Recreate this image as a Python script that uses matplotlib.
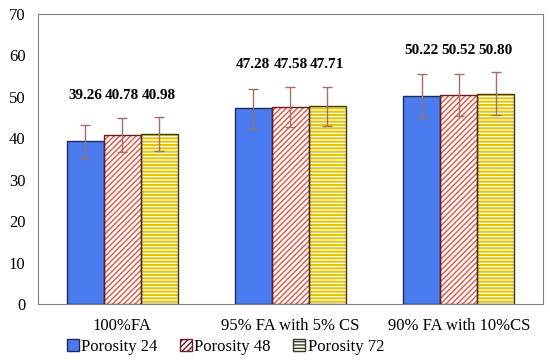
import matplotlib.pyplot as plt
import numpy as np

plt.rcParams['font.family'] = ['Liberation Serif', 'DejaVu Serif']

mixes = ['100%FA', '95% FA with 5% CS', '90% FA with 10%CS']
series = ['Porosity 24', 'Porosity 48', 'Porosity 72']
p24 = [39.26, 47.28, 50.22]
p48 = [40.78, 47.58, 50.52]
p72 = [40.98, 47.71, 50.80]
err24 = [4.0, 4.7, 5.2]
err48 = [4.1, 4.8, 5.1]
err72 = [4.1, 4.8, 5.1]

values = [p24, p48, p72]
errors = [err24, err48, err72]
faces = ['#4a7cf0', 'white', 'white']
hatches = [None, '//////', '-----']
hcolors = ['#4a7cf0', '#e0604f', '#e6c400']
hwidths = [1.0, 1.1, 1.5]
edges = ['#1f2a55', '#6b1a20', '#3a3a20']

fig = plt.figure(figsize=(5.5, 3.61), dpi=100)
ax = fig.add_axes([0.069, 0.158, 0.918, 0.803])

x = np.arange(len(mixes))
w = 0.22
handles = []
for i in range(3):
    pos = x + (i - 1) * w
    with plt.rc_context({'hatch.linewidth': hwidths[i]}):
        # hatch layer first, then outline on top
        ax.bar(pos, values[i], w, color=faces[i], edgecolor=hcolors[i],
               hatch=hatches[i], linewidth=0, zorder=2)
        handles.append(plt.Rectangle((0, 0), 1, 1, facecolor=faces[i], edgecolor=edges[i],
                                     hatch=hatches[i], linewidth=1))
    ax.bar(pos, values[i], w, fill=False, edgecolor=edges[i], linewidth=1, zorder=3)
    ax.errorbar(pos, values[i], yerr=errors[i], fmt='none', ecolor='#a07068',
                elinewidth=1, capsize=3.5, capthick=1, zorder=4)

for j in range(len(mixes)):
    top = max(values[i][j] + errors[i][j] for i in range(3))
    for i in range(3):
        ax.text(x[j] + (i - 1) * w, top + 5.3, '%.2f' % values[i][j], ha='center', va='center',
                fontsize=11, fontweight='bold')

ax.set_xlim(-0.5, 2.5)
ax.set_ylim(0, 70)
ax.set_yticks(range(0, 71, 10))
ax.set_xticks(x)
ax.set_xticklabels(mixes)
ax.tick_params(length=0, labelsize=12)
ax.tick_params(axis='y', pad=9)
ax.tick_params(axis='x', pad=10)
for s in ax.spines.values():
    s.set_color('#808080')

fig.legend(handles, series, loc='lower center', bbox_to_anchor=(0.41, -0.025), ncol=3,
           frameon=False, fontsize=12, handlelength=0.7, handleheight=0.7,
           handletextpad=0.15, columnspacing=1.35)

plt.savefig('out.png')
